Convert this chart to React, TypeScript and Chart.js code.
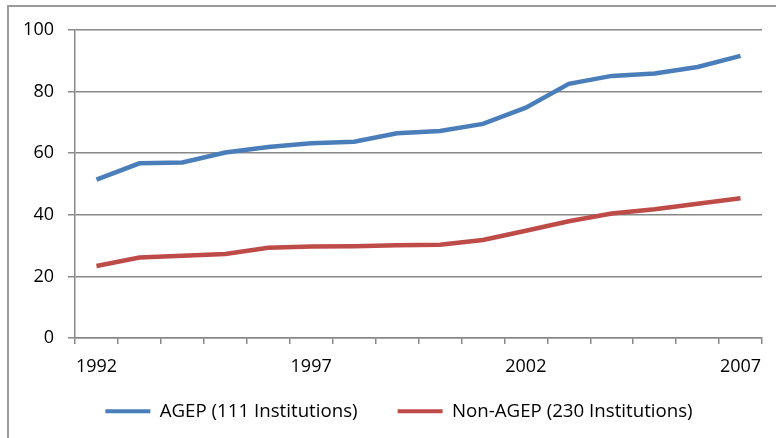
import React, { useEffect, useRef } from "react";
import { Chart, registerables } from "chart.js";

Chart.register(...registerables);

const years = [
  "1992", "1993", "1994", "1995", "1996", "1997", "1998", "1999",
  "2000", "2001", "2002", "2003", "2004", "2005", "2006", "2007",
];
const agep = [51.4, 56.7, 57.0, 60.2, 62.0, 63.2, 63.7, 66.5, 67.2, 69.5, 74.8, 82.5, 85.1, 85.9, 88.0, 91.6];
const nonAgep = [23.4, 26.1, 26.7, 27.3, 29.3, 29.7, 29.8, 30.1, 30.3, 31.8, 34.8, 37.9, 40.4, 41.8, 43.6, 45.4];
const seriesNames = ["AGEP (111 Institutions)", "Non-AGEP (230 Institutions)"];
const yTicks = [0, 20, 40, 60, 80, 100];

const legendShift = {
  id: "legendShift",
  afterLayout(chart: any) {
    const lg = chart.legend;
    if (!lg) return;
    const dx = 7;
    const dy = -16;
    lg.left += dx;
    lg.right += dx;
    lg.top += dy;
    lg.bottom = lg.top + 80;
    lg.height = 80;
  },
};

export default function App() {
  const ref = useRef<HTMLCanvasElement>(null);

  useEffect(() => {
    if (!ref.current) return;
    const font = "'Open Sans', 'Liberation Sans', sans-serif";
    const chart = new Chart(ref.current, {
      type: "line",
      data: {
        labels: years,
        datasets: [
          {
            label: seriesNames[0],
            data: agep,
            borderColor: "#4A7EBB",
            backgroundColor: "#4A7EBB",
            borderWidth: 4.5,
            pointRadius: 0,
            tension: 0,
          },
          {
            label: seriesNames[1],
            data: nonAgep,
            borderColor: "#BE4B48",
            backgroundColor: "#BE4B48",
            borderWidth: 4.5,
            pointRadius: 0,
            tension: 0,
          },
        ],
      },
      plugins: [legendShift],
      options: {
        responsive: false,
        animation: false,
        layout: { padding: { left: 22, right: 14, top: 30, bottom: 10 } },
        plugins: {
          tooltip: { enabled: false },
          legend: {
            position: "bottom",
            maxHeight: 50,
            labels: {
              font: { family: font, size: 18.7 },
              color: "#000",
              boxWidth: 45,
              boxHeight: 4,
              padding: 40,
              generateLabels: (c: any) => {
                const items = Chart.defaults.plugins.legend.labels.generateLabels(c);
                return items.map((it: any) => ({ ...it, lineWidth: 0, fillStyle: it.strokeStyle }));
              },
            },
          },
        },
        scales: {
          x: {
            offset: true,
            grid: {
              display: true,
              offset: true,
              drawOnChartArea: false,
              drawTicks: true,
              tickLength: 6,
              color: "#888",
              lineWidth: 1.5,
            },
            border: { color: "#888", width: 1.5 },
            ticks: {
              autoSkip: false,
              maxRotation: 0,
              color: "#000",
              padding: 12,
              font: { family: font, size: 18 },
              callback: (_v: any, i: number) => (i % 5 === 0 ? years[i] : ""),
            },
            afterFit: (s: any) => {
              s.height = 40;
            },
          },
          y: {
            min: 0,
            max: 100,
            afterBuildTicks: (s: any) => {
              s.ticks = yTicks.map((v) => ({ value: v }));
            },
            grid: {
              color: "#888",
              lineWidth: 1.5,
              tickLength: 7,
            },
            border: { color: "#888", width: 1.5 },
            ticks: {
              color: "#000",
              padding: 14,
              font: { family: font, size: 18 },
            },
            afterFit: (s: any) => {
              s.width = 53;
            },
          },
        },
      },
    });
    return () => chart.destroy();
  }, []);

  return (
    <div style={{ position: "absolute", left: 0, top: 0, width: 776, height: 438, background: "#fff", overflow: "hidden" }}>
      <div
        style={{
          position: "absolute",
          left: 7,
          top: 5,
          width: 776,
          height: 438,
          borderLeft: "2px solid #9a9a9a",
          borderTop: "2px solid #9a9a9a",
        }}
      />
      <canvas ref={ref} width={776} height={438} style={{ position: "absolute", left: 0, top: 0 }} />
    </div>
  );
}
